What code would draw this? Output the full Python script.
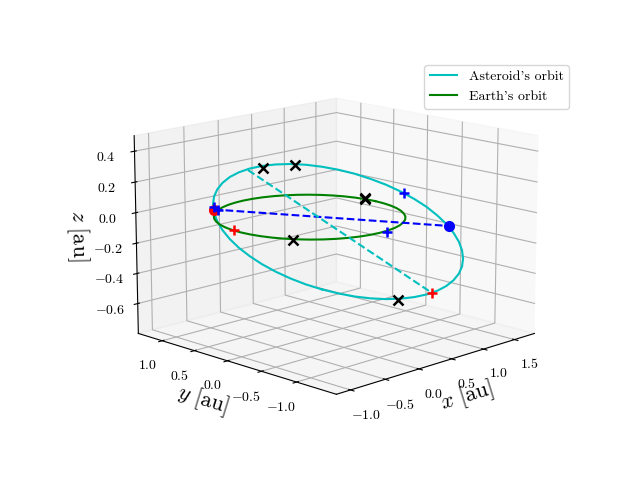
import numpy as np, matplotlib
matplotlib.use("Agg")
import matplotlib.pyplot as plt, seaborn as sns

asteroid_x=[1.154,0.995,0.823,0.641,0.454,0.266,0.079,-0.102,-0.274,-0.435,-0.581,-0.711,-0.823,-0.915,-0.987,-1.037,-1.065,-1.072,-1.058,-1.023,-0.967,-0.892,-0.800,-0.691,-0.566,-0.429,-0.280,-0.121,0.045,0.216,0.389,0.562,0.732,0.897,1.053,1.197,1.328,1.442,1.536,1.609,1.659,1.683,1.682,1.655,1.602,1.523,1.421,1.297,1.154]
asteroid_y=[0.954,1.048,1.119,1.166,1.189,1.187,1.160,1.111,1.039,0.947,0.838,0.713,0.575,0.426,0.269,0.108,-0.056,-0.221,-0.383,-0.540,-0.690,-0.832,-0.962,-1.080,-1.183,-1.271,-1.341,-1.393,-1.426,-1.439,-1.431,-1.402,-1.353,-1.282,-1.192,-1.083,-0.957,-0.815,-0.659,-0.493,-0.319,-0.140,0.041,0.219,0.391,0.554,0.704,0.838,0.954]
asteroid_z=[-0.726,-0.684,-0.631,-0.569,-0.499,-0.423,-0.343,-0.259,-0.174,-0.089,-0.006,0.074,0.150,0.220,0.284,0.341,0.389,0.429,0.459,0.480,0.492,0.494,0.486,0.469,0.443,0.407,0.364,0.312,0.253,0.188,0.116,0.041,-0.039,-0.120,-0.203,-0.285,-0.366,-0.443,-0.516,-0.583,-0.642,-0.692,-0.732,-0.761,-0.779,-0.784,-0.777,-0.757,-0.726]
earth_x=[1,.991,.966,.924,.866,.793,.707,.609,.5,.383,.259,.131,0,-.131,-.259,-.383,-.5,-.609,-.707,-.793,-.866,-.924,-.966,-.991,-1,-.991,-.966,-.924,-.866,-.793,-.707,-.609,-.5,-.383,-.259,-.131,0,.131,.259,.383,.5,.609,.707,.793,.866,.924,.966,.991,1]
earth_y=[0,.131,.259,.383,.5,.609,.707,.793,.866,.924,.966,.991,1,.991,.966,.924,.866,.793,.707,.609,.5,.383,.259,.131,0,-.131,-.259,-.383,-.5,-.609,-.707,-.793,-.866,-.924,-.966,-.991,-1,-.991,-.966,-.924,-.866,-.793,-.707,-.609,-.5,-.383,-.259,-.131,0]
earth_z=[0]*49
apse_x=[-0.629,0.604]; apse_y=[0.779,-1.402]; apse_z=[0.026,0.024]
chord_x=[-1.060,1.679]; chord_y=[-0.184,-0.224]; chord_z=[0.415,-0.671]
black_x=[-1.029,-0.940,1.667,1.026,1.010,-0.830]
black_y=[-0.368,-0.730,0.274,0.178,0.154,-0.583]
black_z=[0.444,0.490,-0.779,0,0,0]
blue_x=[-0.089,-0.616,0.087,-0.415]
blue_y=[-1.410,0.747,-1.017,1.017]
blue_z=[0.303,0.028,0,0]
red_x=[1.672,-0.963]
red_y=[-0.225,0.128]
red_z=[-0.668,0]
peri=[-0.624,0.793,0.021]
aph=[0.604,-1.402,0.024]
x_ticks=[-1,-.5,0,.5,1,1.5]
y_ticks=[-1,-.5,0,.5,1]
z_ticks=[-.6,-.4,-.2,0,.2,.4]

sns.reset_orig()
cyan,green,blue,red,black=sns.color_palette(['c','g','b','r','k'])
plt.rcParams['mathtext.fontset']='cm'
plt.rcParams['font.family']='cmr10'
plt.rcParams['axes.formatter.use_mathtext']=True
plt.rcParams['axes.unicode_minus']=True
fig=plt.figure(figsize=(6.4,4.8),dpi=100)
ax=fig.add_subplot(projection='3d')
ax.set_position([(330.5-218)/640,(480-241.5-218)/480,436/640,436/480])
ax.set_box_aspect((4,4,2.88),zoom=1.0)
ax.view_init(14,-135)
ax.plot(asteroid_x,asteroid_y,asteroid_z,color=cyan,lw=1.5,label="Asteroid's orbit")
ax.plot(earth_x,earth_y,earth_z,color=green,lw=1.5,label="Earth's orbit")
ax.plot([peri[0]],[peri[1]],[peri[2]],'o',color=red,ms=7)
ax.plot([aph[0]],[aph[1]],[aph[2]],'o',color=blue,ms=7)
ax.plot(apse_x,apse_y,apse_z,'--',color=blue,lw=1.5)
ax.plot(chord_x,chord_y,chord_z,'--',color=cyan,lw=1.5)
ax.plot(black_x,black_y,black_z,'x',color=black,ms=7,mew=1.8)
ax.plot(blue_x,blue_y,blue_z,'+',color=blue,ms=7,mew=1.8)
ax.plot(red_x,red_y,red_z,'+',color=red,ms=7,mew=1.8)
ax.set(xlim=(-1.2,1.83),ylim=(-1.55,1.38),zlim=(-.8,.5))
ax.set_xticks(x_ticks);ax.set_yticks(y_ticks);ax.set_zticks(z_ticks)
ax.set_xlabel(r"$x\ [\mathrm{au}]$",fontsize=16,labelpad=0)
ax.set_ylabel(r"$y\ [\mathrm{au}]$",fontsize=16,labelpad=2)
ax.set_zlabel(r"$z\ [\mathrm{au}]$",fontsize=16,labelpad=3)
ax.legend(loc='upper right',bbox_to_anchor=(569/640,1-65/480),bbox_transform=fig.transFigure,borderaxespad=0)
fig.savefig("out.png",dpi=100)
